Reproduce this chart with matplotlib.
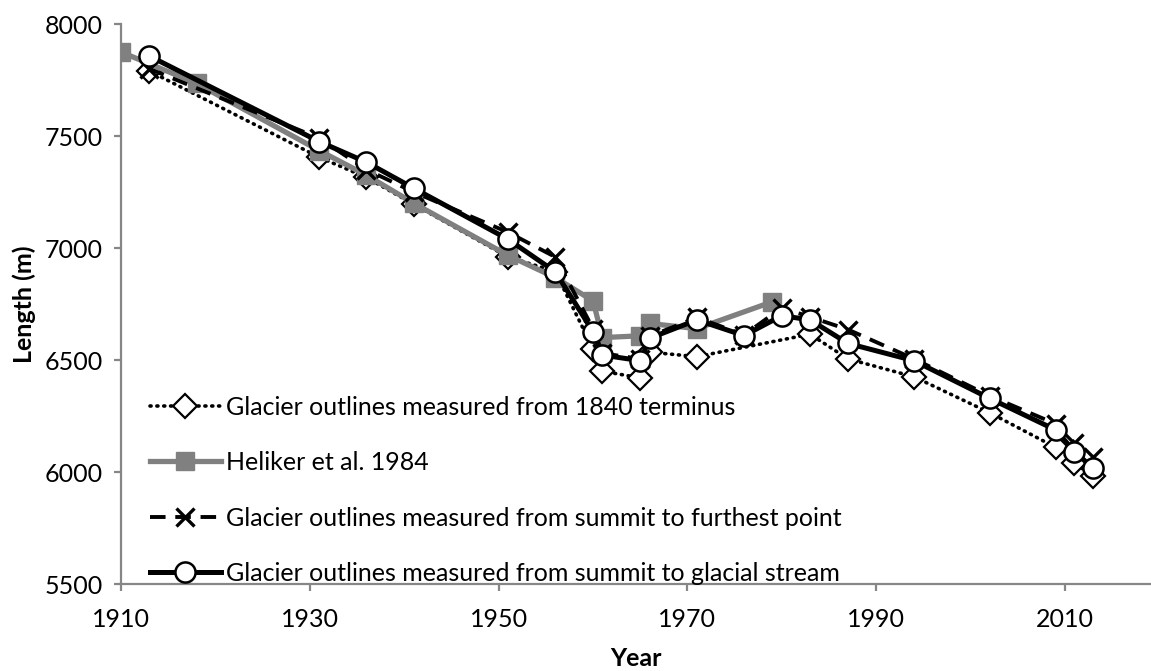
import matplotlib
matplotlib.use('Agg')
from matplotlib import pyplot as plt

# series
yr_outline = [1913, 1931, 1936, 1941, 1951, 1956, 1960, 1961, 1965, 1966, 1971,
              1983, 1987, 1994, 2002, 2009, 2011, 2013]
len_outline = [7790, 7405, 7315, 7195, 6960, 6895, 6550, 6450, 6420, 6535, 6515,
               6615, 6505, 6425, 6265, 6110, 6040, 5980]

yr_heliker = [1910, 1918, 1931, 1936, 1941, 1951, 1956, 1960, 1961, 1965, 1966, 1971, 1979]
len_heliker = [7875, 7735, 7435, 7325, 7200, 6967, 6868, 6764, 6600, 6608, 6663, 6640, 6760]

yr_furthest = [1913, 1931, 1936, 1941, 1951, 1956, 1960, 1961, 1965, 1966, 1971, 1976,
               1980, 1983, 1987, 1994, 2002, 2009, 2011, 2013]
len_furthest = [7800, 7490, 7350, 7250, 7070, 6960, 6640, 6530, 6505, 6605, 6690, 6612,
                6733, 6692, 6636, 6505, 6340, 6215, 6130, 6065]

yr_stream = [1913, 1931, 1936, 1941, 1951, 1956, 1960, 1961, 1965, 1966, 1971, 1976,
             1980, 1983, 1987, 1994, 2002, 2009, 2011, 2013]
len_stream = [7857, 7475, 7383, 7267, 7039, 6894, 6627, 6522, 6497, 6597, 6679, 6609,
              6698, 6679, 6574, 6497, 6329, 6188, 6091, 6016]

labels = ['Glacier outlines measured from 1840 terminus',
          'Heliker et al. 1984',
          'Glacier outlines measured from summit to furthest point',
          'Glacier outlines measured from summit to glacial stream']

plt.rcParams['font.family'] = ['Lato', 'DejaVu Sans']
fs = 18
axis_grey = '#868686'

fig = plt.figure(figsize=(11.51, 6.71), dpi=100)
ax = fig.add_axes([121 / 1151, 87 / 671, (1150 - 121) / 1151, 560 / 671])

ax.plot(yr_outline, len_outline, color='black', lw=2.6, ls=(0, (0.3, 1.6)),
        dash_capstyle='round', marker='D', ms=12, mfc='white', mec='black', mew=1.6,
        label=labels[0], zorder=2)
ax.plot(yr_heliker, len_heliker, color='#808080', lw=3.8, marker='s', ms=13,
        mfc='#808080', mec='#808080', label=labels[1], zorder=3)
ax.plot(yr_furthest, len_furthest, color='black', lw=2.8, ls=(0, (4, 2.5)),
        marker='x', ms=13, mew=2.4, label=labels[2], zorder=4)
ax.plot(yr_stream, len_stream, color='black', lw=3.6, marker='o', ms=14.5,
        mfc='white', mec='black', mew=1.8, label=labels[3], zorder=5)

ax.set_xlim(1910, 2019)
ax.set_ylim(5500, 8000)
ax.set_xticks(range(1910, 2011, 20))
ax.set_yticks(range(5500, 8001, 500))

for s in ['top', 'right']:
    ax.spines[s].set_visible(False)
for s in ['left', 'bottom']:
    ax.spines[s].set_color(axis_grey)
    ax.spines[s].set_linewidth(1.6)
ax.tick_params(direction='out', length=5, width=1.6, color=axis_grey, labelsize=fs)
ax.tick_params(axis='x', pad=12)
ax.tick_params(axis='y', pad=8)

ax.set_xlabel('Year', fontsize=fs, fontweight='bold', labelpad=12)
ax.set_ylabel('Length (m)', fontsize=fs, fontweight='bold', labelpad=6)

leg = ax.legend(loc='lower left', bbox_to_anchor=(0.018, -0.02), frameon=False,
                fontsize=fs, handlelength=2.85, handletextpad=0.2,
                labelspacing=1.3, borderaxespad=0)

fig.savefig('out.png', dpi=100)
